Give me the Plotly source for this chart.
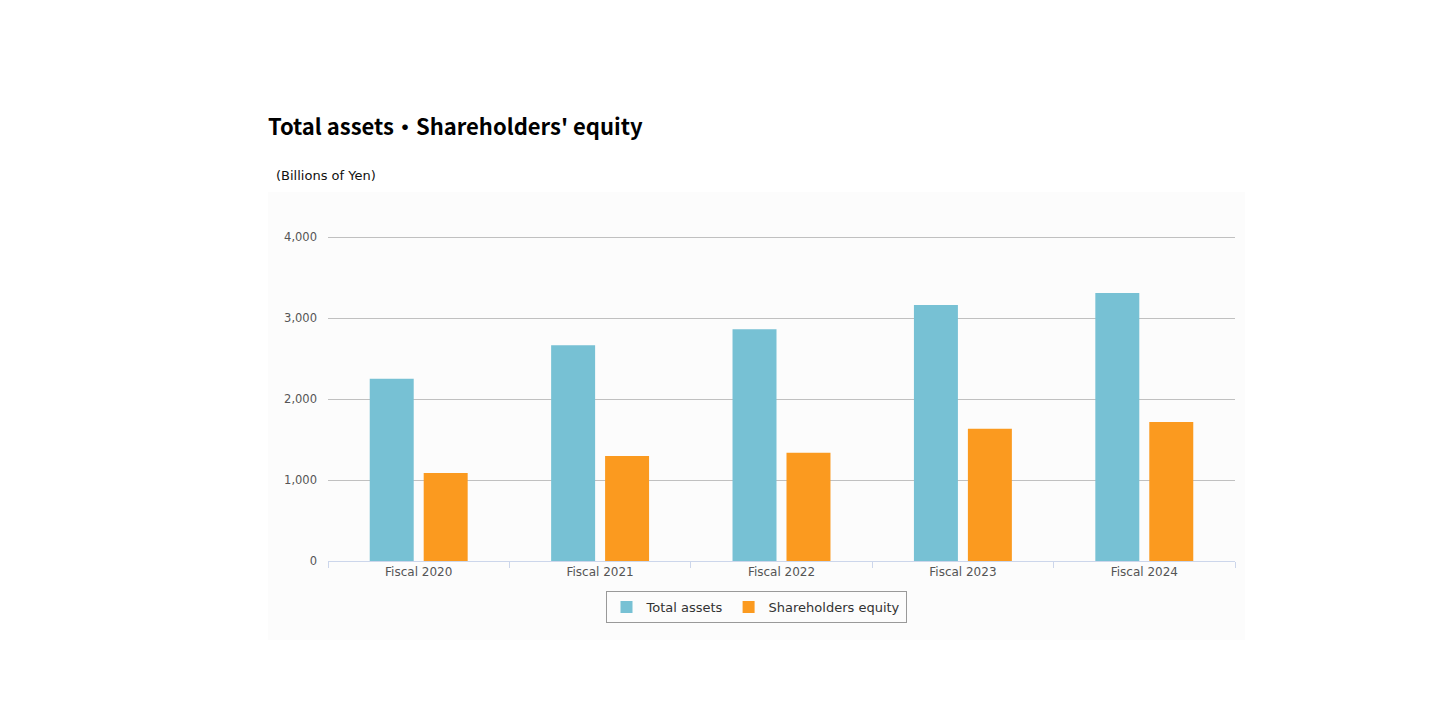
import plotly.graph_objects as go

categories = ["Fiscal 2020", "Fiscal 2021", "Fiscal 2022", "Fiscal 2023", "Fiscal 2024"]
total_assets = [2250, 2665, 2862, 3160, 3310]
shareholders_equity = [1088, 1295, 1335, 1632, 1717]

# page body adds an 8px offset
OFF = 8
W, H = 1448, 724
L, R, T, B = 328 - OFF, 213 + OFF, 235 - OFF, 163 + OFF
pw, ph = W - L - R, H - T - B


def px_x(x):
    return (x - OFF - L) / pw


def px_y(y):
    return (H - B - (y - OFF)) / ph


fig = go.Figure()
fig.add_trace(go.Bar(x=categories, y=total_assets, name="Total assets",
                     marker=dict(color="#77c1d4", line=dict(width=0))))
fig.add_trace(go.Bar(x=categories, y=shareholders_equity, name="Shareholders equity",
                     marker=dict(color="#fb9a1f", line=dict(width=0))))

fig.add_shape(type="rect", xref="paper", yref="paper", layer="below",
              x0=px_x(268), x1=px_x(1245), y0=px_y(640), y1=px_y(192),
              fillcolor="#fcfcfc", line=dict(width=0))

fig.add_annotation(text="(Billions of Yen)", xref="paper", yref="paper",
                   x=px_x(274), y=px_y(175), xanchor="left", yanchor="middle",
                   showarrow=False, font=dict(family="DejaVu Sans", size=13, color="#111"))

fig.update_layout(
    width=W, height=H,
    margin=dict(l=L, r=R, t=T, b=B, pad=0),
    paper_bgcolor="white",
    plot_bgcolor="#fcfcfc",
    barmode="group",
    bargap=0.405,
    bargroupgap=0.185,
    title=dict(text="<b>Total assets・Shareholders' equity</b>", xref="container", yref="container",
               x=(268 - OFF) / W, xanchor="left", y=1 - (127 - OFF) / H, yanchor="middle",
               font=dict(family="Noto Sans CJK JP", size=22, color="#000")),
    xaxis=dict(showgrid=False, showline=True, linecolor="#ccd6eb", linewidth=1,
               ticks="outside", tickson="boundaries", ticklen=6, tickcolor="#ccd6eb",
               tickfont=dict(family="DejaVu Sans", size=12, color="#555"),
               fixedrange=True),
    yaxis=dict(range=[0, 4025], tickvals=[0, 1000, 2000, 3000, 4000],
               tickformat=",d", showgrid=True, gridcolor="#c0c0c0", gridwidth=1,
               zeroline=False, showline=False, ticks="", ticklabelstandoff=10,
               tickfont=dict(family="DejaVu Sans", size=11.5, color="#555")),
    legend=dict(orientation="h", xref="container", x=(756 - OFF) / W, xanchor="center",
                yref="container", y=1 - (607 - OFF) / H, yanchor="middle",
                bgcolor="#fcfcfc", bordercolor="#999", borderwidth=1,
                font=dict(family="DejaVu Sans", size=13, color="#333"),
                itemwidth=30, traceorder="normal"),
    showlegend=True,
)

fig.write_html("out.html")
